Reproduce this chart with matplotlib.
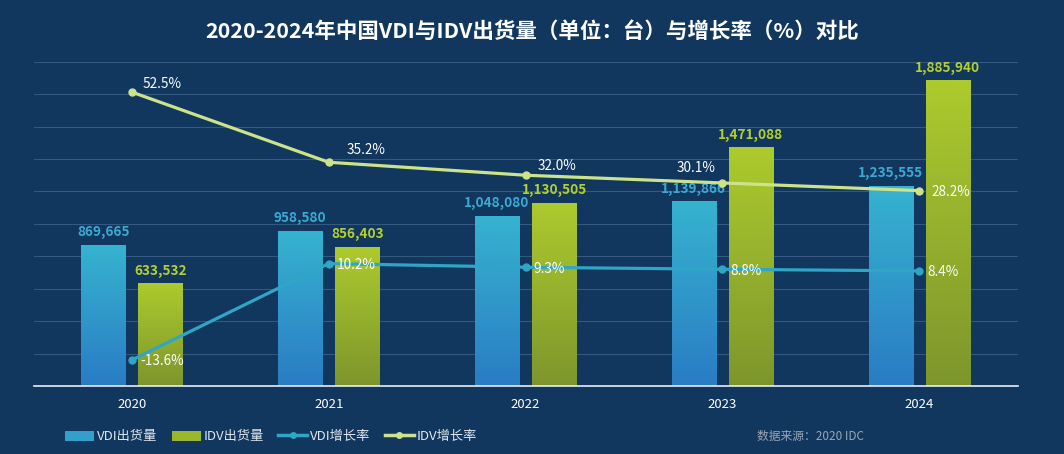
import matplotlib.pyplot as plt
from matplotlib.colors import LinearSegmentedColormap
from matplotlib.patches import Patch
from matplotlib.lines import Line2D
import numpy as np

plt.rcParams['font.family'] = ['Noto Sans CJK SC', 'DejaVu Sans']

years = ['2020', '2021', '2022', '2023', '2024']
vdi_ship = [869665, 958580, 1048080, 1139866, 1235555]
idv_ship = [633532, 856403, 1130505, 1471088, 1885940]
vdi_growth = [-13.6, 10.2, 9.3, 8.8, 8.4]
idv_growth = [52.5, 35.2, 32.0, 30.1, 28.2]

bg = '#11375f'
vdi_top, vdi_bot = '#36b3cf', '#2a7cc4'
idv_top, idv_bot = '#adca2e', '#7d962c'
vdi_line = '#2fa6c6'
idv_line = '#cde38a'

fig = plt.figure(figsize=(10.64, 4.54), dpi=100, facecolor=bg)
ax = fig.add_axes([0.0315, 0.1498, 0.9248, 0.7142])
ax.set_facecolor(bg)

x = np.arange(len(years))
off, w = 0.145, 0.224


def gradient_bars(bars, top, bot):
    cmap = LinearSegmentedColormap.from_list('g', [bot, top])
    grad = np.linspace(0, 1, 256).reshape(-1, 1)
    for b in bars:
        bx, bw, bh = b.get_x(), b.get_width(), b.get_height()
        im = ax.imshow(grad, extent=[bx, bx + bw, 0, bh], origin='lower',
                       aspect='auto', cmap=cmap, zorder=2)
        im.set_clip_path(b)


b1 = ax.bar(x - off, vdi_ship, w, color='none', zorder=2)
b2 = ax.bar(x + off, idv_ship, w, color='none', zorder=2)
gradient_bars(b1, vdi_top, vdi_bot)
gradient_bars(b2, idv_top, idv_bot)

for xi, v in zip(x, vdi_ship):
    ax.text(xi - off, v + 35000, '{:,}'.format(v), ha='center', va='bottom',
            color='#3aaad2', fontsize=9.8, fontweight='bold', zorder=5)
for xi, v in zip(x, idv_ship):
    ax.text(xi + off, v + 35000, '{:,}'.format(v), ha='center', va='bottom',
            color='#b4d030', fontsize=9.8, fontweight='bold', zorder=5)

ax.set_xlim(-0.5, len(years) - 0.5)
ax.set_ylim(0, 2000000)
ax.set_yticks(np.arange(0, 2000001, 200000))
ax.yaxis.grid(True, color='#34587f', linewidth=0.8)
ax.set_axisbelow(True)
ax.set_yticklabels([])
ax.tick_params(axis='y', length=0)
ax.set_xticks(x)
ax.set_xticklabels(years, color='white', fontsize=9.5)
ax.tick_params(axis='x', length=0, pad=9)
for s in ['left', 'right', 'top']:
    ax.spines[s].set_visible(False)
ax.spines['bottom'].set_color('#e8eef5')
ax.spines['bottom'].set_linewidth(1.2)

ax2 = ax.twinx()
ax2.set_ylim(-20, 60)
ax2.axis('off')
ax2.plot(x, vdi_growth, color=vdi_line, lw=2.3, marker='o', ms=5, zorder=4)
ax2.plot(x, idv_growth, color=idv_line, lw=2.3, marker='o', ms=5, zorder=4)

# label offsets in points (dx, dy, ha)
idv_offs = [(8, 6, 'left'), (13, 9, 'left'), (9, 7, 'left'), (-5, 11, 'right'), (9, -1, 'left')]
for xi, v, (dx, dy, ha) in zip(x, idv_growth, idv_offs):
    ax2.annotate('{:.1f}%'.format(v), (xi, v), xytext=(dx, dy), textcoords='offset points',
                 ha=ha, va='center', color='white', fontsize=9.8, zorder=6)
for xi, v in zip(x, vdi_growth):
    ax2.annotate('{:.1f}%'.format(v), (xi, v), xytext=(6, -1), textcoords='offset points',
                 ha='left', va='center', color='white', fontsize=9.8, zorder=6)

fig.text(0.5, 0.93, '2020-2024年中国VDI与IDV出货量（单位：台）与增长率（%）对比',
         ha='center', va='center', color='white', fontsize=15.5, fontweight='bold')

handles = [
    Patch(facecolor='#33a0cc', label='VDI出货量'),
    Patch(facecolor='#9ab82e', label='IDV出货量'),
    Line2D([0], [0], color=vdi_line, lw=2.5, marker='o', ms=4, label='VDI增长率'),
    Line2D([0], [0], color=idv_line, lw=2.5, marker='o', ms=4, label='IDV增长率'),
]
leg = fig.legend(handles=handles, loc='center left', bbox_to_anchor=(0.05, 0.038), ncol=4,
                 frameon=False, fontsize=9.5, handlelength=2.2, handleheight=0.8,
                 handletextpad=0.2, columnspacing=1.1, labelcolor='#dfe6ee')

fig.text(0.711, 0.038, '数据来源：2020 IDC', ha='left', va='center', color='#9aa6b6', fontsize=8.5)

plt.savefig('out.png', dpi=100, facecolor=bg)
